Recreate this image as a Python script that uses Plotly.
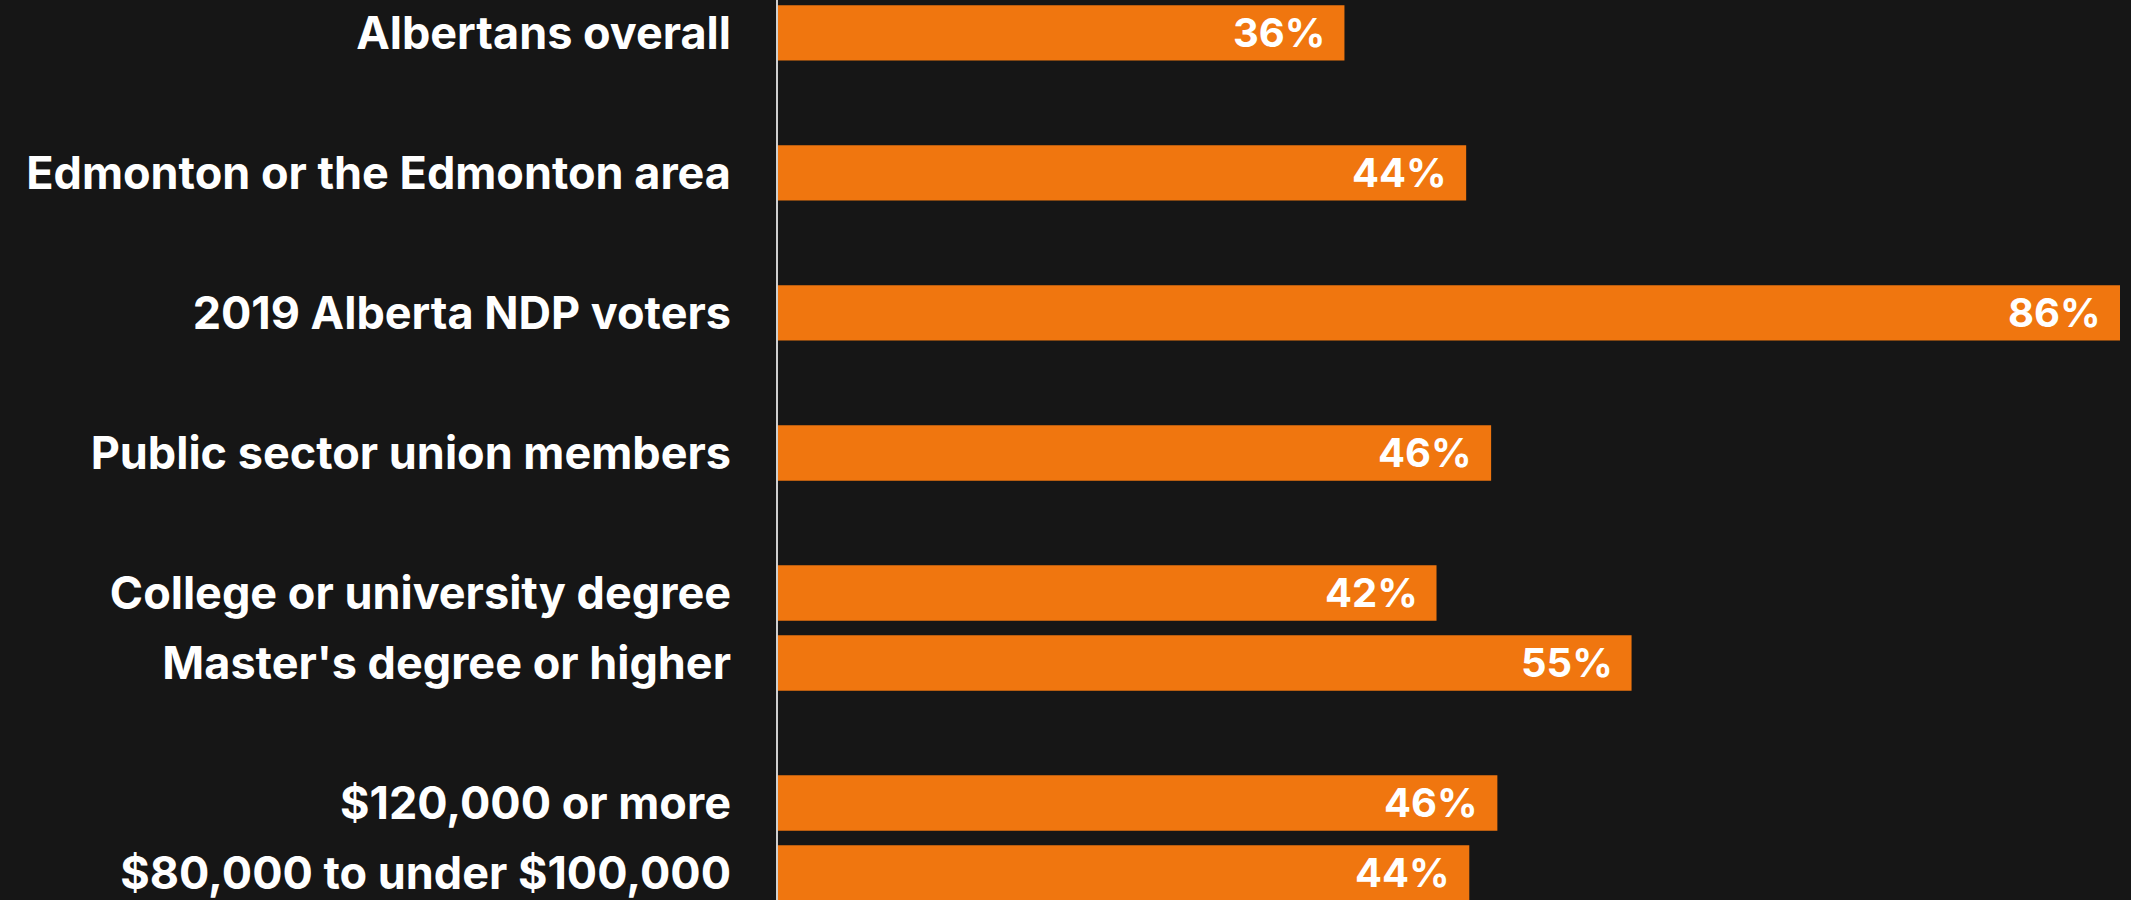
import plotly.graph_objects as go

# Rows top-to-bottom; blank strings are spacer rows between groups
row_order = [
    "Albertans overall", " ",
    "Edmonton or the Edmonton area", "  ",
    "2019 Alberta NDP voters", "   ",
    "Public sector union members", "    ",
    "College or university degree",
    "Master's degree or higher", "     ",
    "$120,000 or more",
    "$80,000 to under $100,000",
]

categories = [
    "Albertans overall",
    "Edmonton or the Edmonton area",
    "2019 Alberta NDP voters",
    "Public sector union members",
    "College or university degree",
    "Master's degree or higher",
    "$120,000 or more",
    "$80,000 to under $100,000",
]
# bar lengths (labels show rounded percentages)
values = [36.3, 44.1, 86.0, 45.7, 42.2, 54.7, 46.1, 44.3]
value_labels = ["36%", "44%", "86%", "46%", "42%", "55%", "46%", "44%"]

BG = "#161616"
ORANGE = "#F0760F"
FONT = "Inter, Roboto, 'Open Sans', sans-serif"

fig = go.Figure(
    go.Bar(
        x=values,
        y=categories,
        orientation="h",
        marker=dict(color=ORANGE, line=dict(width=0)),
        hoverinfo="y",
    )
)

for cat, v, lab in zip(categories, values, value_labels):
    fig.add_annotation(
        x=v, y=cat, text=lab, showarrow=False,
        xanchor="right", yanchor="middle", xshift=-17,
        font=dict(family=FONT, size=40, color="white", weight=700),
    )

fig.update_layout(
    width=2131,
    height=900,
    paper_bgcolor=BG,
    plot_bgcolor=BG,
    margin=dict(l=778, r=11, t=0, b=0, pad=0),
    bargap=0.21,
    showlegend=False,
)

fig.update_xaxes(
    range=[0, 86],
    visible=False,
    showgrid=False,
    zeroline=False,
)

fig.update_yaxes(
    type="category",
    categoryorder="array",
    categoryarray=row_order,
    range=[12.386, -0.471],
    showgrid=False,
    zeroline=False,
    showline=True,
    linecolor="#cfcfcf",
    linewidth=2,
    ticks="outside",
    ticklen=36,
    tickcolor="rgba(0,0,0,0)",
    tickfont=dict(family=FONT, size=45, color="white", weight=700),
)

fig.write_html(
    "out.html",
    config={"displayModeBar": False},
    post_script="document.body.style.margin='0';document.body.style.background='#161616';",
)
